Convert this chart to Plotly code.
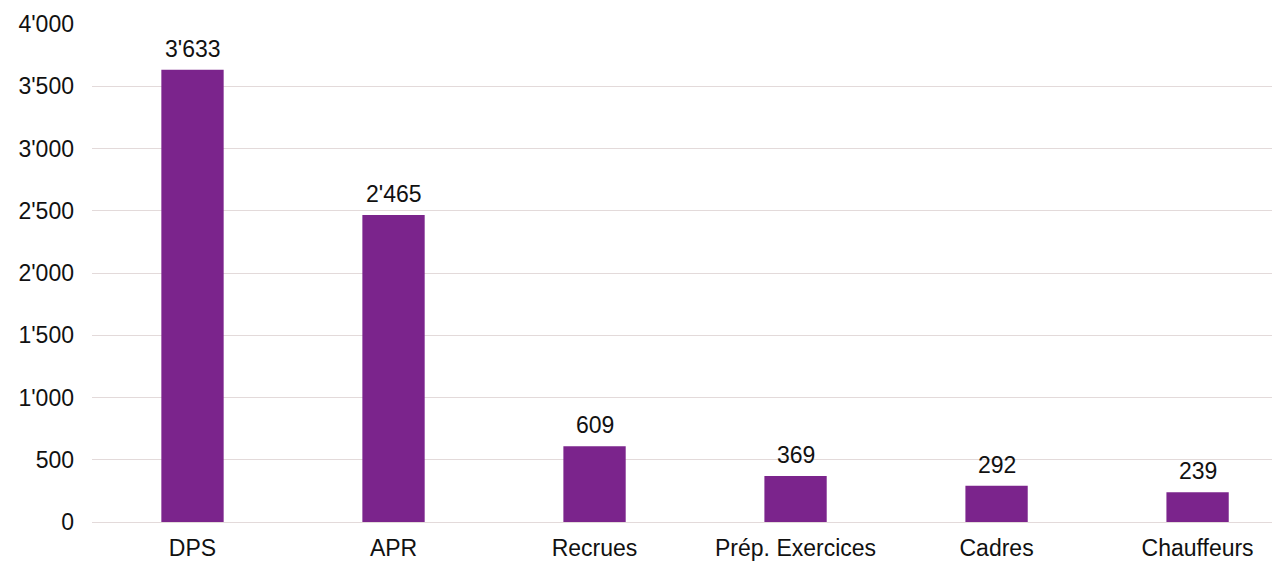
import plotly.graph_objects as go

categories = ["DPS", "APR", "Recrues", "Prép. Exercices", "Cadres", "Chauffeurs"]
values = [3633, 2465, 609, 369, 292, 239]
tick_values = [0, 500, 1000, 1500, 2000, 2500, 3000, 3500, 4000]
tick_labels = ["0", "500", "1'000", "1'500", "2'000", "2'500", "3'000", "3'500", "4'000"]

labels = [f"{v:,}".replace(",", "'") for v in values]
FONT = "Liberation Sans, Arial, sans-serif"

fig = go.Figure()
fig.add_trace(go.Bar(
    x=categories, y=values,
    marker=dict(color="#7B248C", line=dict(width=0)),
    width=0.31,
    hoverinfo="x+y",
))

for c, v, t in zip(categories, values, labels):
    fig.add_annotation(
        x=c, y=v, text=t, showarrow=False, yanchor="bottom",
        yshift=6, font=dict(size=23, color="#111111", family=FONT),
    )

fig.update_layout(
    width=1272, height=555,
    margin=dict(l=84, r=0, t=16, b=41, autoexpand=False),
    paper_bgcolor="white", plot_bgcolor="white",
    font=dict(family=FONT, size=23, color="#111111"),
    showlegend=False,
)
fig.update_xaxes(
    range=[-0.5, 5.41], showgrid=False, showline=False, zeroline=False,
    ticks="", ticklabelstandoff=10, tickfont=dict(size=23), automargin=False,
)
fig.update_yaxes(
    range=[0, 4000], tickvals=tick_values, ticktext=tick_labels,
    showgrid=True, gridcolor="#E3DADA", gridwidth=1,
    zeroline=True, zerolinecolor="#E3DADA", zerolinewidth=1,
    showline=False, ticks="", ticklabelstandoff=17, tickfont=dict(size=23),
    automargin=False,
)

fig.write_html("out.html")
